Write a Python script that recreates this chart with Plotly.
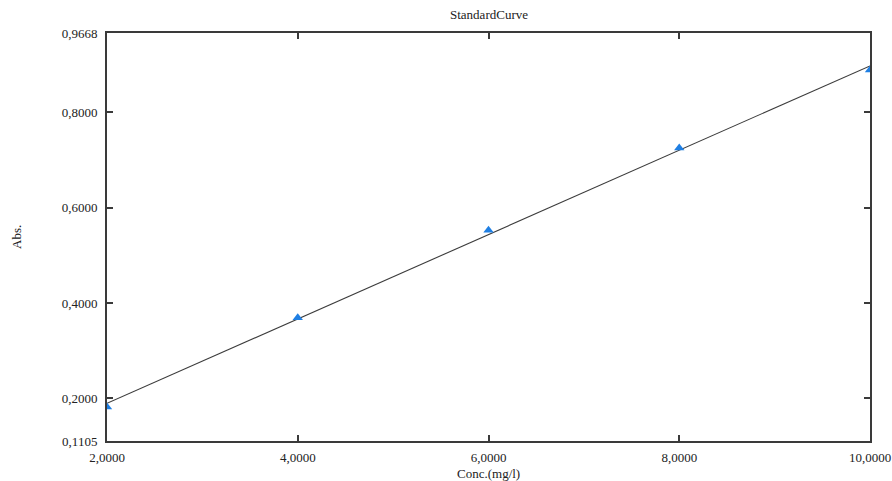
import numpy as np
import plotly.graph_objects as go

conc = [2.0, 4.0, 6.0, 8.0, 10.0]
absorbance = [0.182, 0.369, 0.553, 0.7255, 0.889]

x_ticks = [2.0, 4.0, 6.0, 8.0, 10.0]
x_ticklabels = ["2,0000", "4,0000", "6,0000", "8,0000", "10,0000"]
y_ticks = [0.1105, 0.2, 0.4, 0.6, 0.8, 0.9668]
y_ticklabels = ["0,1105", "0,2000", "0,4000", "0,6000", "0,8000", "0,9668"]

slope, intercept = np.polyfit(conc, absorbance, 1)
fit_x = [conc[0], conc[-1]]
fit_y = [slope * v + intercept for v in fit_x]

FONT = "Liberation Serif, Times New Roman, serif"
AX = "#3a3a3a"
FS = 13

fig = go.Figure()
fig.add_trace(go.Scatter(x=fit_x, y=fit_y, mode="lines",
                         line=dict(color="#3c3c3c", width=1.1),
                         showlegend=False, hoverinfo="skip"))
fig.add_trace(go.Scatter(x=conc, y=absorbance, mode="markers",
                         marker=dict(symbol="triangle-up", size=9, color="#1f7fe3",
                                     line=dict(width=0)),
                         showlegend=False, cliponaxis=True))

fig.update_layout(
    width=892, height=481,
    margin=dict(l=107, r=22, t=33, b=40),
    paper_bgcolor="white", plot_bgcolor="white",
    font=dict(family=FONT, size=FS, color="#222"),
    xaxis=dict(range=[2.0, 10.0], tickvals=x_ticks, ticktext=x_ticklabels,
               showgrid=False, zeroline=False, showline=True, linecolor=AX,
               linewidth=2, mirror="ticks", ticks="inside", ticklen=6,
               tickwidth=1.5, tickcolor=AX, automargin=False, ticklabelstandoff=3,
               tickfont=dict(family=FONT, size=FS, color="#222")),
    yaxis=dict(range=[0.1105, 0.9668], tickvals=y_ticks, ticktext=y_ticklabels,
               showgrid=False, zeroline=False, showline=True, linecolor=AX,
               linewidth=2, mirror="ticks", ticks="inside", ticklen=6,
               tickwidth=1.5, tickcolor=AX, automargin=False, ticklabelstandoff=5,
               tickfont=dict(family=FONT, size=FS, color="#222")),
    annotations=[
        dict(text="StandardCurve", xref="paper", yref="paper", x=0.5, y=1,
             yanchor="middle", yshift=19, showarrow=False,
             font=dict(family=FONT, size=FS, color="#222")),
        dict(text="Conc.(mg/l)", xref="paper", yref="paper", x=0.5, y=0,
             yanchor="middle", yshift=-32, showarrow=False,
             font=dict(family=FONT, size=FS, color="#222")),
        dict(text="Abs.", xref="paper", yref="paper", x=0, y=0.5, xshift=-91,
             xanchor="center", yanchor="middle",
             textangle=-90, showarrow=False, font=dict(family=FONT, size=FS, color="#222")),
    ],
)

fig.write_html("out.html")
